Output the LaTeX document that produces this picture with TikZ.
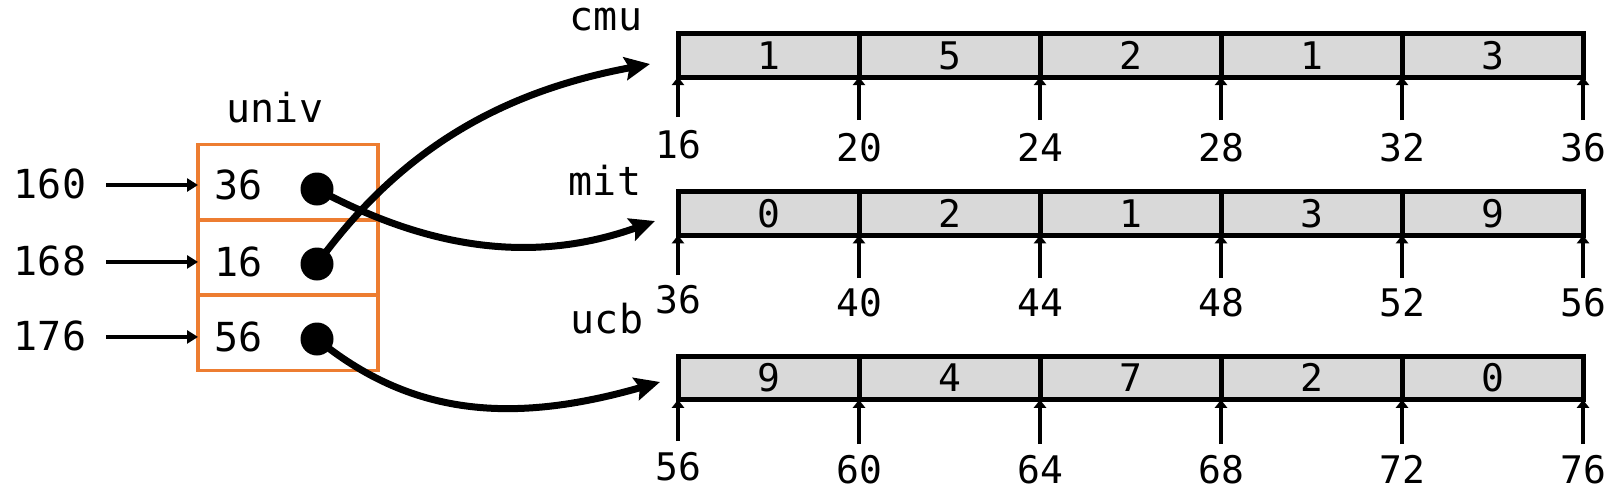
\documentclass[tikz,border=0pt]{standalone}
\usepackage{fontspec}
\setmonofont{DejaVu Sans Mono}
\usetikzlibrary{arrows.meta}
\definecolor{uorange}{HTML}{ED7D31}
\definecolor{cellgray}{HTML}{D9D9D9}
\tikzset{
  lbl/.style={font=\fontsize{40}{40}\selectfont\ttfamily, inner sep=0pt, outer sep=0pt},
  small/.style={font=\fontsize{38}{38}\selectfont\ttfamily, inner sep=0pt, outer sep=0pt, anchor=base},
  cell/.style={draw=black, line width=5pt, fill=cellgray, minimum width=181pt,
    minimum height=43.5pt, inner sep=0pt, outer sep=0pt},
  ubox/.style={draw=uorange, line width=3.5pt, minimum width=180pt, minimum height=75.5pt,
    inner sep=0pt, outer sep=0pt},
  dot/.style={circle, fill=black, minimum size=33pt, inner sep=0pt},
  tick/.style={line width=4.5pt, -{Triangle[length=8pt,width=12pt]}},
  larrow/.style={line width=4.5pt, -{Triangle[length=11pt,width=13pt]}},
  ptr/.style={line width=7pt, -{Stealth[length=25pt,width=23pt,inset=4pt]}},
}
\begin{document}
\begin{tikzpicture}[x=1pt,y=-1pt]
\useasboundingbox (0,0) rectangle (1617,496);

% univ array
\node[lbl, anchor=base] (univ) at (275,122) {univ};
\node[ubox] (u1) at (288,182) {};
\node[ubox] (u2) at (288,257.5) {};
\node[ubox] (u3) at (288,332.5) {};
\node[lbl, anchor=base west] (v1) at (214,199.5) {36};
\node[lbl, anchor=base west] (v2) at (214,276.5) {16};
\node[lbl, anchor=base west] (v3) at (214,351.5) {56};
\node[dot] (d1) at (317,189) {};
\node[dot] (d2) at (317,264) {};
\node[dot] (d3) at (317,339) {};

% addresses of univ
\node[lbl, anchor=base] (a1) at (50,198.5) {160};
\node[lbl, anchor=base] (a2) at (50,275.5) {168};
\node[lbl, anchor=base] (a3) at (50,350.5) {176};
\draw[larrow, shorten <=20pt] (a1.east |- u1.west) ++(0,3) coordinate (s1) -- (s1 -| u1.west);
\draw[larrow, shorten <=20pt] (a2.east |- v2.west) -- (v2.west -| u2.west);
\draw[larrow, shorten <=20pt] (a3.east |- v3.west) -- (v3.west -| u3.west);

% array names
\node[lbl, anchor=base] (ncmu) at (606,30) {cmu};
\node[lbl, anchor=base] (nmit) at (605,195) {mit};
\node[lbl, anchor=base] (nucb) at (607,333) {ucb};

% arrays
\foreach \r/\yc/\ytk/\ylb/\vals/\addrs in {
  1/55.25/120/148/{1,5,2,1,3}/{16,20,24,28,32,36},
  2/213.5/278/303/{0,2,1,3,9}/{36,40,44,48,52,56},
  3/378/444/470/{9,4,7,2,0}/{56,60,64,68,72,76}}{
  \foreach \v [count=\i] in \vals {
    \node[cell] (r\r c\i) at ({678+181*(\i-1)+90.5},\yc) {};
    \node[small] (r\r v\i) at ({678+181*(\i-1)+90.5},{\yc+13.8}) {\v};
  }
  \foreach \a [count=\j from 0] in \addrs {
    \coordinate (r\r t\j) at ({678+181*\j},{\ytk-3*(\j==0)});
    \node[small] (r\r a\j) at ({678+181*\j},{\ylb+13.8-3*(\j==0)}) {\a};
    \draw[tick] (r\r t\j) -- (r\r t\j |- r\r c1.south);
  }
}

% pointer arrows
\coordinate (tcmu) at (650,64);
\coordinate (tmit) at (655,221);
\coordinate (tucb) at (660,382);
\draw[ptr] (d2.center) .. controls (400,150) and (500,92) .. (tcmu);
\draw[ptr] (d1.center) .. controls (430,250) and (535,264) .. (tmit);
\draw[ptr] (d3.center) .. controls (410,415) and (510,425) .. (tucb);
\end{tikzpicture}
\end{document}
